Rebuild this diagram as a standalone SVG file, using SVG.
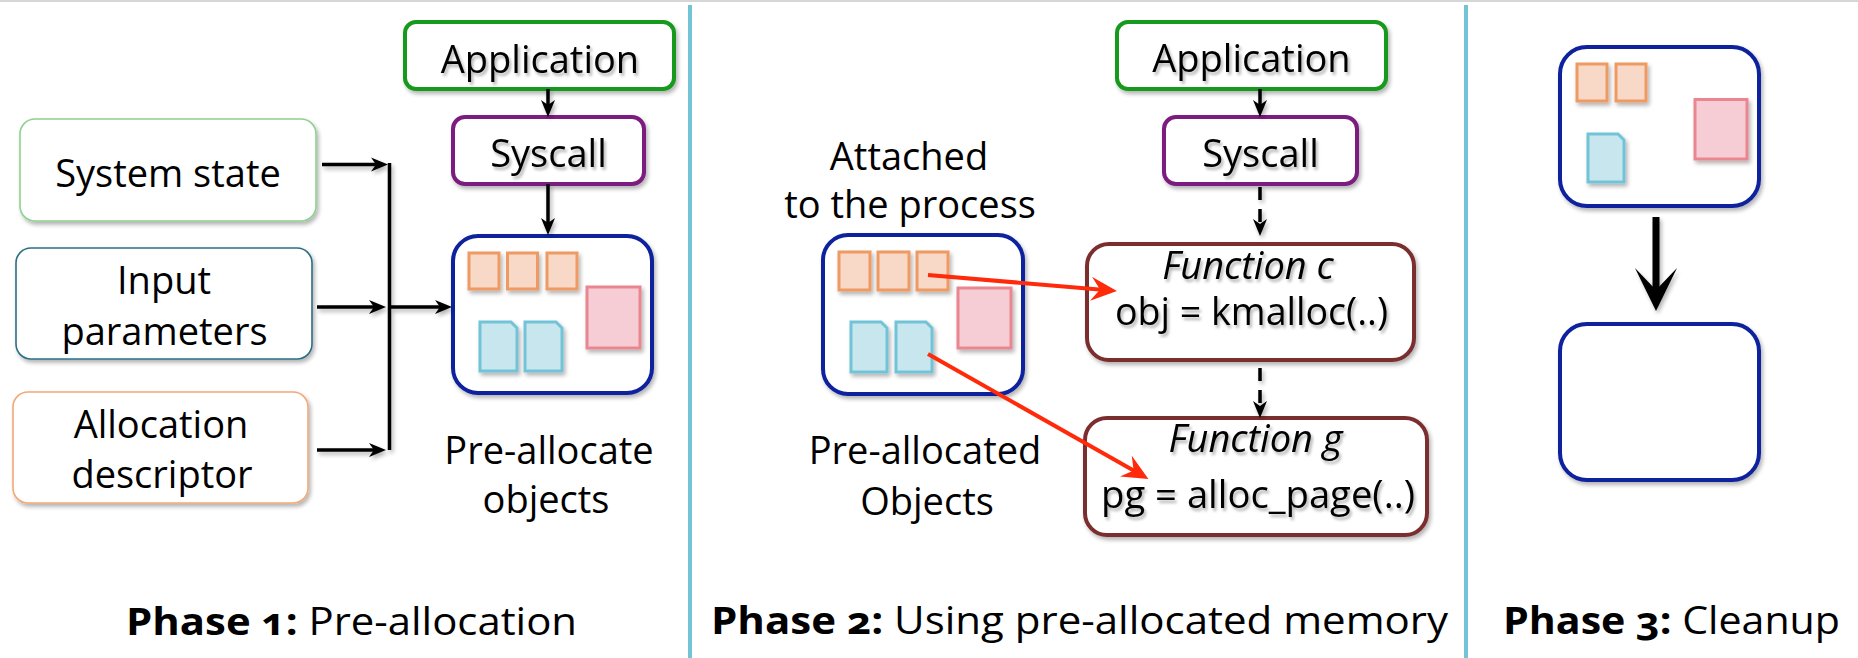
<svg xmlns="http://www.w3.org/2000/svg" width="1858" height="658" viewBox="0 0 1858 658">
  <style>
    text { font-family: "Open Sans", "Liberation Sans", sans-serif; font-size: 38px; fill: #000; }
    .mid { text-anchor: middle; }
    .it { font-style: italic; }
    .lbl { font-size: 38px; font-variant-numeric: oldstyle-nums; }
    .b { font-weight: bold; }
    .inbox { fill: #fff; }
    .green { fill: #fff; stroke: #16991a; stroke-width: 4; }
    .purple { fill: #fff; stroke: #7c1f80; stroke-width: 4; }
    .blue { fill: #fff; stroke: #0b209c; stroke-width: 4; }
    .brown { fill: #fff; stroke: #7a2e2e; stroke-width: 4; }
    .org { fill: #f8d8c6; stroke: #ee9a62; stroke-width: 3; }
    .pink { fill: #f6cdd5; stroke: #ea8690; stroke-width: 3; }
    .cyan { fill: #c8e6ee; stroke: #72c3d8; stroke-width: 3; }
    .wire { fill: none; stroke: #000; stroke-width: 3.5; }
    .dash { stroke-dasharray: 13 9; }
    .red { fill: none; stroke: #ff2a0a; stroke-width: 4; }
    .divider { stroke: #74c4d8; stroke-width: 4; }
  </style>
  <defs>
    <filter id="shadow" filterUnits="userSpaceOnUse" x="0" y="0" width="1858" height="658">
      <feGaussianBlur in="SourceAlpha" stdDeviation="2"/>
      <feOffset dx="2" dy="3" result="o"/>
      <feComponentTransfer><feFuncA type="linear" slope="0.3"/></feComponentTransfer>
      <feMerge><feMergeNode/><feMergeNode in="SourceGraphic"/></feMerge>
    </filter>
    <filter id="tshadow" filterUnits="userSpaceOnUse" x="0" y="0" width="1858" height="658">
      <feGaussianBlur in="SourceAlpha" stdDeviation="1.6"/>
      <feOffset dx="1.5" dy="2.5"/>
      <feComponentTransfer><feFuncA type="linear" slope="0.3"/></feComponentTransfer>
      <feMerge><feMergeNode/><feMergeNode in="SourceGraphic"/></feMerge>
    </filter>
    <marker id="ah" markerUnits="userSpaceOnUse" viewBox="0 0 18 16" markerWidth="18" markerHeight="16" refX="9" refY="8" orient="auto">
      <path d="M0,1 L17,8 L0,15 L5,8 Z" fill="#000"/>
    </marker>
    <marker id="ahRed" markerUnits="userSpaceOnUse" viewBox="0 0 27 24" markerWidth="27" markerHeight="24" refX="14" refY="12" orient="auto">
      <path d="M0,0 L26,12 L0,24 L9,12 Z" fill="#ff2a0a"/>
    </marker>
  </defs>

  <rect width="1858" height="658" fill="#fff"/>
  <rect x="0" y="0" width="1858" height="2" fill="#d6d6d6"/>
  <line class="divider" x1="690" y1="5" x2="690" y2="658"/>
  <line class="divider" x1="1466" y1="5" x2="1466" y2="658"/>

  <!-- Phase 1: inputs -->
  <g id="system-state">
    <rect x="20" y="119" width="296" height="102" rx="15" fill="#fff" stroke="#8fd18f" stroke-width="1.6" filter="url(#shadow)"/>
    <text class="mid" x="168" y="187">System state</text>
  </g>
  <g id="input-parameters">
    <rect x="16" y="248" width="296" height="111" rx="15" fill="#fff" stroke="#2c7085" stroke-width="1.6" filter="url(#shadow)"/>
    <text class="mid" x="164" y="294">Input</text>
    <text class="mid" x="164.5" y="345">parameters</text>
  </g>
  <g id="allocation-descriptor">
    <rect x="13" y="392" width="295" height="111" rx="15" fill="#fff" stroke="#f4a878" stroke-width="1.6" filter="url(#shadow)"/>
    <text class="mid" x="161" y="438">Allocation</text>
    <text class="mid" x="162" y="488">descriptor</text>
  </g>

  <!-- Phase 1: call path -->
  <g id="p1-application">
    <rect class="green" x="405" y="22" width="269" height="67" rx="11" filter="url(#shadow)"/>
    <text class="mid" x="540" y="73" filter="url(#tshadow)">Application</text>
  </g>
  <g id="p1-syscall">
    <rect class="purple" x="453" y="117" width="191" height="67" rx="12" filter="url(#shadow)"/>
    <text class="mid" x="548.5" y="167" filter="url(#tshadow)">Syscall</text>
  </g>
  <g id="p1-pool">
    <rect class="blue" x="453" y="236" width="199" height="157" rx="25" filter="url(#shadow)"/>
    <g filter="url(#shadow)">
      <rect class="org" x="469" y="253" width="30" height="36"/>
      <rect class="org" x="507.5" y="253" width="30" height="36"/>
      <rect class="org" x="547" y="253" width="30" height="36"/>
      <rect class="pink" x="587" y="287" width="53" height="61"/>
      <path class="cyan" d="M480,322 H511 L517,328 V371 H480 Z"/>
      <path class="cyan" d="M525,322 H556 L562,328 V371 H525 Z"/>
    </g>
    <text class="mid" x="549" y="464">Pre-allocate</text>
    <text class="mid" x="546" y="513">objects</text>
  </g>

  <!-- Phase 2 -->
  <g id="p2-pool">
    <text class="mid" x="909" y="170">Attached</text>
    <text class="mid" x="910" y="218">to the process</text>
    <rect class="blue" x="823" y="235" width="200" height="159" rx="25" filter="url(#shadow)"/>
    <g filter="url(#shadow)">
      <rect class="org" x="839" y="252" width="31" height="38"/>
      <rect class="org" x="878" y="252" width="31" height="38"/>
      <rect class="org" x="917" y="252" width="31" height="38"/>
      <rect class="pink" x="958" y="288" width="53" height="60"/>
      <path class="cyan" d="M851,322 H881 L887,328 V372 H851 Z"/>
      <path class="cyan" d="M896,322 H926 L932,328 V372 H896 Z"/>
    </g>
    <text class="mid" x="925" y="464">Pre-allocated</text>
    <text class="mid" x="927" y="515">Objects</text>
  </g>
  <g id="p2-application">
    <rect class="green" x="1117" y="22" width="269" height="67" rx="11" filter="url(#shadow)"/>
    <text class="mid" x="1251.5" y="72" filter="url(#tshadow)">Application</text>
  </g>
  <g id="p2-syscall">
    <rect class="purple" x="1164" y="117" width="193" height="67" rx="12" filter="url(#shadow)"/>
    <text class="mid" x="1260.5" y="167" filter="url(#tshadow)">Syscall</text>
  </g>
  <g id="function-c">
    <rect class="brown" x="1087" y="244" width="327" height="116" rx="22" filter="url(#shadow)"/>
    <text class="mid it" x="1248" y="279" filter="url(#tshadow)">Function c</text>
    <text class="mid" x="1251.5" y="325" textLength="273" lengthAdjust="spacingAndGlyphs" filter="url(#tshadow)">obj = kmalloc(..)</text>
  </g>
  <g id="function-g">
    <rect class="brown" x="1085" y="418" width="342" height="117" rx="22" filter="url(#shadow)"/>
    <text class="mid it" x="1255.5" y="452" filter="url(#tshadow)">Function g</text>
    <text class="mid" x="1258" y="508" textLength="314" lengthAdjust="spacingAndGlyphs" filter="url(#tshadow)">pg = alloc_page(..)</text>
  </g>

  <!-- Phase 3 -->
  <g id="p3-before">
    <rect class="blue" x="1560" y="47" width="199" height="159" rx="27" filter="url(#shadow)"/>
    <g filter="url(#shadow)">
      <rect class="org" x="1577" y="64" width="30" height="37"/>
      <rect class="org" x="1616" y="64" width="30" height="37"/>
      <rect class="pink" x="1695" y="99.5" width="52" height="59.5"/>
      <path class="cyan" d="M1588,134 H1618 L1624,140 V182 H1588 Z"/>
    </g>
  </g>
  <g id="p3-after">
    <rect class="blue" x="1560" y="324" width="199" height="156" rx="27" filter="url(#shadow)"/>
  </g>

  <!-- Connectors -->
  <g id="connectors">
    <g filter="url(#shadow)">
      <line class="wire" x1="322" y1="164.5" x2="380" y2="164.5" marker-end="url(#ah)"/>
      <line class="wire" x1="317" y1="307" x2="378" y2="307" marker-end="url(#ah)"/>
      <line class="wire" x1="317" y1="450" x2="378" y2="450" marker-end="url(#ah)"/>
      <line class="wire" x1="389.5" y1="163" x2="389.5" y2="450"/>
      <line class="wire" x1="389.5" y1="307" x2="444" y2="307" marker-end="url(#ah)"/>
      <line class="wire" x1="548" y1="89" x2="548" y2="109" marker-end="url(#ah)"/>
      <line class="wire" x1="548" y1="184" x2="548" y2="227" marker-end="url(#ah)"/>
      <line class="wire dash" x1="1260" y1="187" x2="1260" y2="228" marker-end="url(#ah)"/>
      <line class="wire" x1="1260" y1="89" x2="1260" y2="109" marker-end="url(#ah)"/>
      <line class="wire dash" x1="1260" y1="368" x2="1260" y2="410" marker-end="url(#ah)"/>
      <line x1="1656" y1="217" x2="1656" y2="292" stroke="#000" stroke-width="7"/>
      <path d="M1635,268 L1656,311 L1677,268 L1656,290 Z" fill="#000"/>
    </g>
    <line class="red" x1="928" y1="275" x2="1105" y2="290" marker-end="url(#ahRed)"/>
    <line class="red" x1="928" y1="354" x2="1138" y2="473" marker-end="url(#ahRed)"/>
  </g>

  <!-- Phase captions -->
  <g id="captions">
    <text class="lbl" x="126" y="635" textLength="451" lengthAdjust="spacingAndGlyphs"><tspan class="b">Phase 1:</tspan> Pre-allocation</text>
    <text class="lbl" x="711" y="634" textLength="737" lengthAdjust="spacingAndGlyphs"><tspan class="b">Phase 2:</tspan> Using pre-allocated memory</text>
    <text class="lbl" x="1503" y="634" textLength="337" lengthAdjust="spacingAndGlyphs"><tspan class="b">Phase 3:</tspan> Cleanup</text>
  </g>
</svg>
